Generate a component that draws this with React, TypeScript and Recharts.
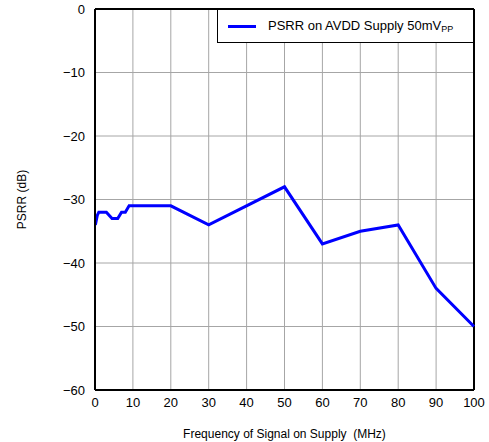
import {
  LineChart,
  Line,
  XAxis,
  YAxis,
  CartesianGrid,
  ReferenceLine,
} from "recharts";

const freqMHz = [0.1, 0.6, 1, 3, 4.5, 6, 7, 8, 9, 20, 30, 50, 60, 70, 80, 90, 100];
const psrrDb = [-34, -32.5, -32, -32, -33, -33, -32, -32, -31, -31, -34, -28, -37, -35, -34, -44, -50];
const xTicks = [0, 10, 20, 30, 40, 50, 60, 70, 80, 90, 100];
const yTicks = [-60, -50, -40, -30, -20, -10, 0];

const data = freqMHz.map((f, i) => ({ f, psrr: psrrDb[i] }));

const font = "'Liberation Sans', Arial, sans-serif";
const minus = (v: number) => String(v).replace("-", "\u2212");

// legend sits in the top-right corner of the plot, over the grid
function LegendBox() {
  return (
    <div
      style={{
        position: "absolute",
        left: 217,
        top: 9,
        width: 257,
        height: 34,
        display: "flex",
        alignItems: "center",
        border: "1.5px solid #000",
        background: "#fff",
        boxSizing: "border-box",
        padding: "0 0 0 10px",
        fontFamily: font,
        fontSize: 13,
        color: "#000",
      }}
    >
      <span style={{ width: 28, height: 3, background: "#0000ff", marginRight: 12 }} />
      <span>
        PSRR on AVDD Supply 50mV<sub style={{ fontSize: 9, verticalAlign: "-2px" }}>PP</sub>
      </span>
    </div>
  );
}

export default function App() {
  return (
    <div style={{ position: "absolute", left: 0, top: 0, width: 489, height: 442, background: "#fff" }}>
      <LineChart
        width={489}
        height={442}
        data={data}
        margin={{ top: 9, right: 15, bottom: 0, left: 0 }}
      >
        <CartesianGrid stroke="#a6a6a6" strokeWidth={1} />
        <XAxis
          dataKey="f"
          type="number"
          domain={[0, 100]}
          ticks={xTicks}
          height={52}
          axisLine={{ stroke: "#000", strokeWidth: 2 }}
          tickLine={false}
          tickMargin={2}
          tick={{ fill: "#000", fontSize: 13, fontFamily: font }}
          label={{
            value: "Frequency of Signal on Supply\u00a0\u00a0(MHz)",
            position: "insideBottom",
            offset: 4,
            style: { fill: "#000", fontSize: 12, fontFamily: font },
          }}
        />
        <YAxis
          type="number"
          domain={[-60, 0]}
          ticks={yTicks}
          width={95}
          axisLine={{ stroke: "#000", strokeWidth: 2 }}
          tickLine={false}
          tickMargin={4}
          tickFormatter={minus}
          tick={{ fill: "#000", fontSize: 13, fontFamily: font }}
          label={{
            value: "PSRR (dB)",
            angle: -90,
            position: "insideLeft",
            offset: 22,
            style: { fill: "#000", fontSize: 12, fontFamily: font, textAnchor: "middle" },
          }}
        />
        <ReferenceLine x={100} stroke="#000" strokeWidth={2} />
        <ReferenceLine y={0} stroke="#000" strokeWidth={2} />
        <Line
          dataKey="psrr"
          stroke="#0000ff"
          strokeWidth={3}
          dot={false}
          isAnimationActive={false}
          type="linear"
        />
      </LineChart>
      <LegendBox />
    </div>
  );
}
